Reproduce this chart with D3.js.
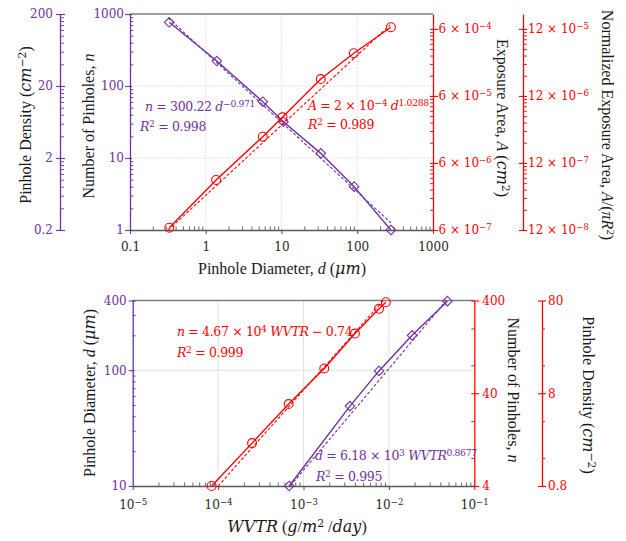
<!DOCTYPE html>
<html><head><meta charset="utf-8">
<script src="https://cdn.jsdelivr.net/npm/d3@7"></script>
<style>body{margin:0;background:#fff}svg{display:block}</style>
</head><body>
<svg id="c" width="626" height="541"></svg>
<script>
// ---------------- DATA ----------------
// Top panel: number of pinholes n vs pinhole diameter d
const topDiamN = [0.33, 1.40, 5.66, 10.6, 33, 91, 278];
const topPinholes = [767, 222, 60.5, 31.9, 11.6, 4.0, 1.0];
// Top panel: exposure area A vs pinhole diameter d
const topDiamA = [0.33, 1.37, 5.66, 10.3, 33, 90, 278];
const topArea = [6.5e-7, 3.35e-6, 1.48e-5, 2.88e-5, 1.07e-4, 2.6e-4, 6.35e-4];
// Top fit lines (end points)
const fitTopND = [0.32, 278], fitTopNN = [880, 1.26];
const fitTopAD = [0.32, 272], fitTopAA = [6.0e-7, 6.9e-4];

// Bottom panel: pinhole diameter d vs WVTR
const botWvtrD = [6.8e-4, 3.5e-3, 7.66e-3, 0.0187, 0.0484];
const botDiam = [10, 49, 98.6, 200, 395];
// Bottom panel: number of pinholes n vs WVTR
const botWvtrN = [8.4e-5, 2.5e-4, 6.7e-4, 1.75e-3, 4.0e-3, 7.66e-3, 9.2e-3];
const botPinholes = [4, 11.6, 30.6, 74, 176, 325, 383];
// Bottom fit lines (end points)
const fitBotNW = [1.0e-4, 8.6e-3], fitBotNN = [4, 400];
const fitBotDW = [7.0e-4, 0.047], fitBotDD = [10, 400];

// Tick values / labels
const topXTicks = [0.1, 1, 10, 100, 1000];
const topXLabels = ["0.1", "1", "10", "100", "1000"];
const topNTicks = [1, 10, 100, 1000];
const topNLabels = ["1", "10", "100", "1000"];
const topDensityLabels = ["0.2", "2", "20", "200"];
const topATicks = [6e-7, 6e-6, 6e-5, 6e-4];
const topAExp = ["−7", "−6", "−5", "−4"];
const topNormExp = ["−8", "−7", "−6", "−5"];
const botXTicks = [1e-5, 1e-4, 1e-3, 1e-2, 1e-1];
const botXExp = ["−5", "−4", "−3", "−2", "−1"];
const botDTicks = [10, 100, 400];
const botDLabels = ["10", "100", "400"];
const botNTicks = [4, 40, 400];
const botNLabels = ["4", "40", "400"];
const botDensityLabels = ["0.8", "8", "80"];

// ---------------- STYLE ----------------
const purple = "#7030a0", red = "#ff0000", gray = "#595959";
const tickFont = "DejaVu Serif", titleFont = "Liberation Serif", mathFont = "DejaVu Serif";
const svg = d3.select("#c");

// ---------------- SCALES ----------------
const xTop = d3.scaleLog().domain([0.1, 1000]).range([130, 433]);
const yN = d3.scaleLog().domain([1, 1000]).range([230, 14]);
const yA = d3.scaleLog().domain([6e-7, 1e-3]).range([230, 14]);
const xBot = d3.scaleLog().domain([1e-5, 1e-1]).range([132.7, 474.3]);
const yD = d3.scaleLog().domain([10, 400]).range([486, 300.5]);
const yNb = d3.scaleLog().domain([4, 400]).range([486, 300.5]);

function minorTicks(scale, base, mults) {
  const [a, b] = scale.domain(); const out = [];
  for (let k = -12; k < 6; k++) for (const m of mults) {
    const v = base * m * Math.pow(10, k);
    if (v >= a * 0.9999 && v <= b * 1.0001) out.push(v);
  }
  return out;
}
const M29 = [2, 3, 4, 5, 6, 7, 8, 9];

function supLabel(t, mant, exp) {
  t.text(null);
  t.append("tspan").text(mant);
  t.append("tspan").attr("dy", "-0.45em").attr("font-size", "0.72em").text(exp);
}

// vertical axis
function vAxis(x, scale, side, color, majors, labelFn, minors, o) {
  const g = svg.append("g").attr("transform", `translate(${x},0)`);
  const gen = (side === "left" ? d3.axisLeft : d3.axisRight)(scale)
    .tickValues(majors).tickSizeInner(o.out).tickSizeOuter(0).tickPadding(o.pad).tickFormat(() => "");
  g.call(gen);
  g.attr("font-family", tickFont).attr("font-size", 12);
  g.select(".domain").attr("stroke", color).attr("stroke-width", 1.3);
  const s = side === "left" ? 1 : -1;
  g.selectAll(".tick line").attr("stroke", color).attr("stroke-width", 1.1)
    .attr("x1", s * o.inn).attr("x2", -s * o.out);
  g.selectAll(".tick text").attr("fill", color).each(function (d, i) { labelFn(d3.select(this), d, i); });
  if (minors && minors.length) {
    const mg = svg.append("g").attr("transform", `translate(${x},0)`);
    const mgen = (o.minorSide === "left" ? d3.axisLeft : d3.axisRight)(scale)
      .tickValues(minors).tickSizeInner(o.mlen).tickSizeOuter(0).tickFormat(() => "");
    mg.call(mgen);
    mg.select(".domain").remove();
    mg.selectAll("line").attr("stroke", color).attr("stroke-width", 0.9);
  }
}
// horizontal axis
function hAxis(y, scale, color, majors, labelFn, minors, o) {
  const g = svg.append("g").attr("transform", `translate(0,${y})`);
  const gen = d3.axisBottom(scale).tickValues(majors).tickSizeInner(o.out).tickSizeOuter(0)
    .tickPadding(o.pad).tickFormat(() => "");
  g.call(gen);
  g.attr("font-family", tickFont).attr("font-size", 12);
  g.select(".domain").attr("stroke", color).attr("stroke-width", 1.3);
  g.selectAll(".tick line").attr("stroke", color).attr("stroke-width", 1.1).attr("y1", -o.inn);
  g.selectAll(".tick text").attr("fill", "#262626").each(function (d, i) { labelFn(d3.select(this), d, i); });
  const mg = svg.append("g").attr("transform", `translate(0,${y})`);
  mg.call(d3.axisTop(scale).tickValues(minors).tickSizeInner(o.mlen).tickSizeOuter(0).tickFormat(() => ""));
  mg.select(".domain").remove();
  mg.selectAll("line").attr("stroke", color).attr("stroke-width", 0.9);
}

// rich text helper: parts = [[text, flags]] flags: i=italic, s=superscript, m=math font
function rich(sel, parts, supSize) {
  let up = false;
  parts.forEach(([txt, f]) => {
    f = f || "";
    const ts = sel.append("tspan").text(txt);
    if (f.includes("i")) ts.attr("font-style", "italic");
    if (f.includes("m")) ts.attr("font-family", mathFont);
    if (f.includes("s")) {
      ts.attr("font-size", supSize);
      if (!up) { ts.attr("dy", "-0.45em"); up = true; }
    } else if (up) { ts.attr("dy", "0.32em"); up = false; }
  });
  return sel;
}
function label(x, y, rot, color, parts, size, font, anchor, supRatio, spacing) {
  const t = svg.append("text")
    .attr("transform", `translate(${x},${y}) rotate(${rot})`)
    .attr("text-anchor", anchor || "middle")
    .attr("fill", color).attr("font-family", font).attr("font-size", size);
  if (spacing) t.attr("letter-spacing", spacing);
  rich(t, parts, size * (supRatio || 0.68));
  return t;
}

// ---------------- GRIDLINES ----------------
function grid(xs, xScale, ys, yScale, xr, yr, dash) {
  const g = svg.append("g").attr("stroke", "#d9d9d9").attr("stroke-width", 0.8).attr("stroke-dasharray", dash);
  g.selectAll(".gx").data(xs).join("line")
    .attr("x1", d => xScale(d)).attr("x2", d => xScale(d)).attr("y1", yr[0]).attr("y2", yr[1]);
  g.selectAll(".gy").data(ys).join("line")
    .attr("y1", d => yScale(d)).attr("y2", d => yScale(d)).attr("x1", xr[0]).attr("x2", xr[1]);
}
grid([1, 10, 100], xTop, [10, 100], yN, xTop.range(), yN.range(), "2,1.5");
grid([1e-4, 1e-3, 1e-2], xBot, [100], yD, xBot.range(), yD.range(), null);

// top borders
svg.append("line").attr("x1", xTop(0.1)).attr("x2", xTop(1000)).attr("y1", yN(1000)).attr("y2", yN(1000))
  .attr("stroke", "#7f7f7f").attr("stroke-width", 1.3);
svg.append("line").attr("x1", xBot(1e-5)).attr("x2", xBot(1e-1)).attr("y1", yD(400)).attr("y2", yD(400))
  .attr("stroke", "#7f7f7f").attr("stroke-width", 1.3);

// ---------------- AXES: TOP PANEL ----------------
hAxis(230, xTop, gray, topXTicks, (t, d, i) => t.text(topXLabels[i]), minorTicks(xTop, 1, M29), { out: 4, inn: 0, pad: 8, mlen: 3.5 });
vAxis(130, yN, "left", purple, topNTicks, (t, d, i) => t.text(topNLabels[i]), minorTicks(yN, 1, M29), { out: 5, inn: 2, pad: 1, mlen: 3.5, minorSide: "right" });
vAxis(60, yN, "left", purple, topNTicks, (t, d, i) => t.text(topDensityLabels[i]), minorTicks(yN, 1, M29), { out: 4, inn: 5, pad: 3, mlen: 4, minorSide: "right" });
vAxis(433, yA, "right", red, topATicks, (t, d, i) => supLabel(t, "6 × 10", topAExp[i]), minorTicks(yA, 6e-7, M29), { out: 5, inn: 3, pad: 0.5, mlen: 3, minorSide: "left" });
vAxis(523, yA, "right", red, topATicks, (t, d, i) => supLabel(t, "12 × 10", topNormExp[i]), minorTicks(yA, 6e-7, M29), { out: 4, inn: 4, pad: 1, mlen: 4, minorSide: "right" });

// ---------------- AXES: BOTTOM PANEL ----------------
hAxis(486, xBot, gray, botXTicks, (t, d, i) => supLabel(t, "10", botXExp[i]), minorTicks(xBot, 1, M29), { out: 4, inn: 0, pad: 10, mlen: 3.5 });
vAxis(132.7, yD, "left", purple, botDTicks, (t, d, i) => t.text(botDLabels[i]), minorTicks(yD, 1, M29), { out: 4, inn: 2, pad: 2, mlen: 3, minorSide: "right" });
vAxis(474.3, yNb, "right", red, botNTicks, (t, d, i) => t.text(botNLabels[i]), minorTicks(yNb, 4, [2, 5]), { out: 5, inn: 3, pad: 3, mlen: 3, minorSide: "left" });
vAxis(542, yNb, "right", red, botNTicks, (t, d, i) => t.text(botDensityLabels[i]), minorTicks(yNb, 4, [2, 5]), { out: 4, inn: 4, pad: 2, mlen: 3, minorSide: "right" });

// ---------------- SERIES ----------------
function series(xs, ys, xScale, yScale, color, marker) {
  const pts = xs.map((x, i) => [xScale(x), yScale(ys[i])]);
  svg.append("path").attr("d", d3.line()(pts)).attr("fill", "none").attr("stroke", color).attr("stroke-width", 1.4);
  const sym = marker === "diamond" ? d3.symbol(d3.symbolDiamond2, 58) : d3.symbol(d3.symbolCircle, 62);
  svg.append("g").selectAll("path").data(pts).join("path")
    .attr("transform", d => `translate(${d[0]},${d[1]})`).attr("d", sym)
    .attr("fill", "none").attr("stroke", color).attr("stroke-width", 1.1);
}
function fit(xs, ys, xScale, yScale, color) {
  const pts = xs.map((x, i) => [xScale(x), yScale(ys[i])]);
  svg.append("path").attr("d", d3.line()(pts)).attr("fill", "none").attr("stroke", color)
    .attr("stroke-width", 1.1).attr("stroke-dasharray", "3,2");
}
fit(fitTopND, fitTopNN, xTop, yN, purple);
fit(fitTopAD, fitTopAA, xTop, yA, red);
series(topDiamN, topPinholes, xTop, yN, purple, "diamond");
series(topDiamA, topArea, xTop, yA, red, "circle");

fit(fitBotNW, fitBotNN, xBot, yNb, red);
fit(fitBotDW, fitBotDD, xBot, yD, purple);
series(botWvtrN, botPinholes, xBot, yNb, red, "circle");
series(botWvtrD, botDiam, xBot, yD, purple, "diamond");

// ---------------- EQUATIONS ----------------
const eqSize = 12.5, eqSup = 0.74, eqSp = -0.35;
label(145, 111, 0, purple, [["n", "i"], [" = 300.22 "], ["d", "i"], ["−0.971", "s"]], eqSize, mathFont, "start", eqSup, eqSp);
label(140, 131, 0, purple, [["R", "i"], ["2", "s"], [" = 0.998"]], eqSize, mathFont, "start", eqSup, eqSp);
label(308, 110, 0, red, [["A", "i"], [" = 2 × 10"], ["−4", "s"], [" "], ["d", "i"], ["1.0288", "s"]], eqSize, mathFont, "start", eqSup, eqSp);
label(308, 129, 0, red, [["R", "i"], ["2", "s"], [" = 0.989"]], eqSize, mathFont, "start", eqSup, eqSp);
label(177, 336, 0, red, [["n", "i"], [" = 4.67 × 10"], ["4", "s"], [" "], ["WVTR", "i"], [" − 0.74"]], eqSize, mathFont, "start", eqSup, eqSp);
label(177, 357, 0, red, [["R", "i"], ["2", "s"], [" = 0.999"]], eqSize, mathFont, "start", eqSup, eqSp);
label(315, 460, 0, purple, [["d", "i"], [" = 6.18 × 10"], ["3", "s"], [" "], ["WVTR", "i"], ["0.8677", "s"]], eqSize, mathFont, "start", eqSup, eqSp);
label(316, 481, 0, purple, [["R", "i"], ["2", "s"], [" = 0.995"]], eqSize, mathFont, "start", eqSup, eqSp);

// ---------------- AXIS TITLES ----------------
const tS = 16, tc = "#1a1a1a";
label(31, 125, -90, tc, [["Pinhole Density ("], ["cm", "im"], ["−2", "sm"], [")"]], tS, titleFont);
label(94, 126, -90, tc, [["Number of Pinholes, "], ["n", "i"]], tS, titleFont);
label(497, 118, 90, tc, [["Exposure Area, "], ["A", "i"], [" ("], ["cm", "im"], ["2", "sm"], [")"]], tS, titleFont);
label(602, 125, 90, tc, [["Normalized Exposure Area, "], ["A", "i"], ["/("], ["πR", "i"], ["2", "s"], [")"]], tS, titleFont);
label(282, 274, 0, tc, [["Pinhole Diameter, "], ["d", "i"], [" ("], ["μm", "im"], [")"]], tS, titleFont);

label(95, 393, -90, tc, [["Pinhole Diameter, "], ["d", "i"], [" ("], ["μm", "im"], [")"]], tS, titleFont);
label(508, 390, 90, tc, [["Number of Pinholes, "], ["n", "i"]], tS, titleFont);
label(583, 395, 90, tc, [["Pinhole Density ("], ["cm", "im"], ["−2", "sm"], [")"]], tS, titleFont);
label(297, 532, 0, tc, [["WVTR", "im"], [" ("], ["g", "im"], ["/"], ["m", "im"], ["2", "sm"], [" /"], ["day", "im"], [")"]], tS, titleFont);
</script>
</body></html>
